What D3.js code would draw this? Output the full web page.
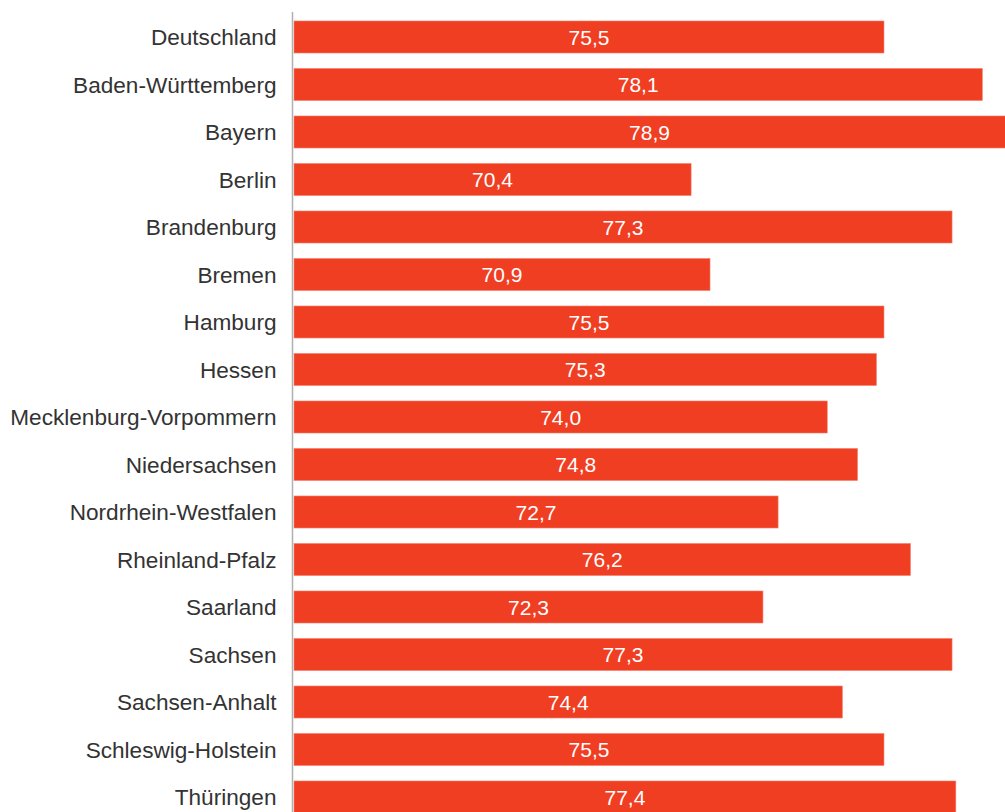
<!DOCTYPE html>
<html>
<head>
<meta charset="utf-8">
<script src="https://cdn.jsdelivr.net/npm/d3@7"></script>
<style>
  html, body { margin: 0; padding: 0; background: #fff; overflow: hidden; }
  svg { display: block; }
</style>
</head>
<body>
<svg id="chart" width="1005" height="812"></svg>
<script>
const categories = ["Deutschland","Baden-Württemberg","Bayern","Berlin","Brandenburg","Bremen","Hamburg","Hessen","Mecklenburg-Vorpommern","Niedersachsen","Nordrhein-Westfalen","Rheinland-Pfalz","Saarland","Sachsen","Sachsen-Anhalt","Schleswig-Holstein","Thüringen"];
const values = [75.5, 78.1, 78.9, 70.4, 77.3, 70.9, 75.5, 75.3, 74.0, 74.8, 72.7, 76.2, 72.3, 77.3, 74.4, 75.5, 77.4];

const svg = d3.select("#chart");
const data = categories.map((c, i) => ({ cat: c, val: values[i] }));

const x = d3.scaleLinear().domain([59.9, 78.7]).range([294, 1005]);
const y = d3.scaleBand().domain(categories).range([13.25, 820.75]).paddingInner(0.326).paddingOuter(0.163);

const fmt = v => d3.format(".1f")(v).replace(".", ",");

// bars
svg.append("g").selectAll("rect").data(data).join("rect")
  .attr("x", x.range()[0])
  .attr("y", d => y(d.cat))
  .attr("width", d => x(d.val) - x.range()[0])
  .attr("height", y.bandwidth())
  .attr("fill", "#f03e23")
  .attr("stroke", "#f57f6b")
  .attr("stroke-width", 0.6);

// value labels
svg.append("g").selectAll("text").data(data).join("text")
  .attr("x", d => (x.range()[0] + Math.min(x(d.val), 1005)) / 2)
  .attr("y", d => y(d.cat) + y.bandwidth() / 2)
  .attr("dy", "0.36em")
  .attr("text-anchor", "middle")
  .attr("fill", "#fff")
  .style("font-family", "'Liberation Sans', Arial, sans-serif")
  .style("font-size", "21px")
  .text(d => fmt(d.val));

// category axis
const axis = d3.axisLeft(y).tickSize(0).tickPadding(16);
const ag = svg.append("g").attr("transform", "translate(292.5,0)").call(axis);
ag.select(".domain").remove();
ag.selectAll("text")
  .style("font-family", "'Liberation Sans', Arial, sans-serif")
  .style("font-size", "22.6px")
  .attr("fill", "#333")
  .attr("dy", "0.36em");
svg.append("line")
  .attr("x1", 292.5).attr("x2", 292.5)
  .attr("y1", 12).attr("y2", 812)
  .attr("stroke", "#b0b0b0").attr("stroke-width", 1.5);
</script>
</body>
</html>
